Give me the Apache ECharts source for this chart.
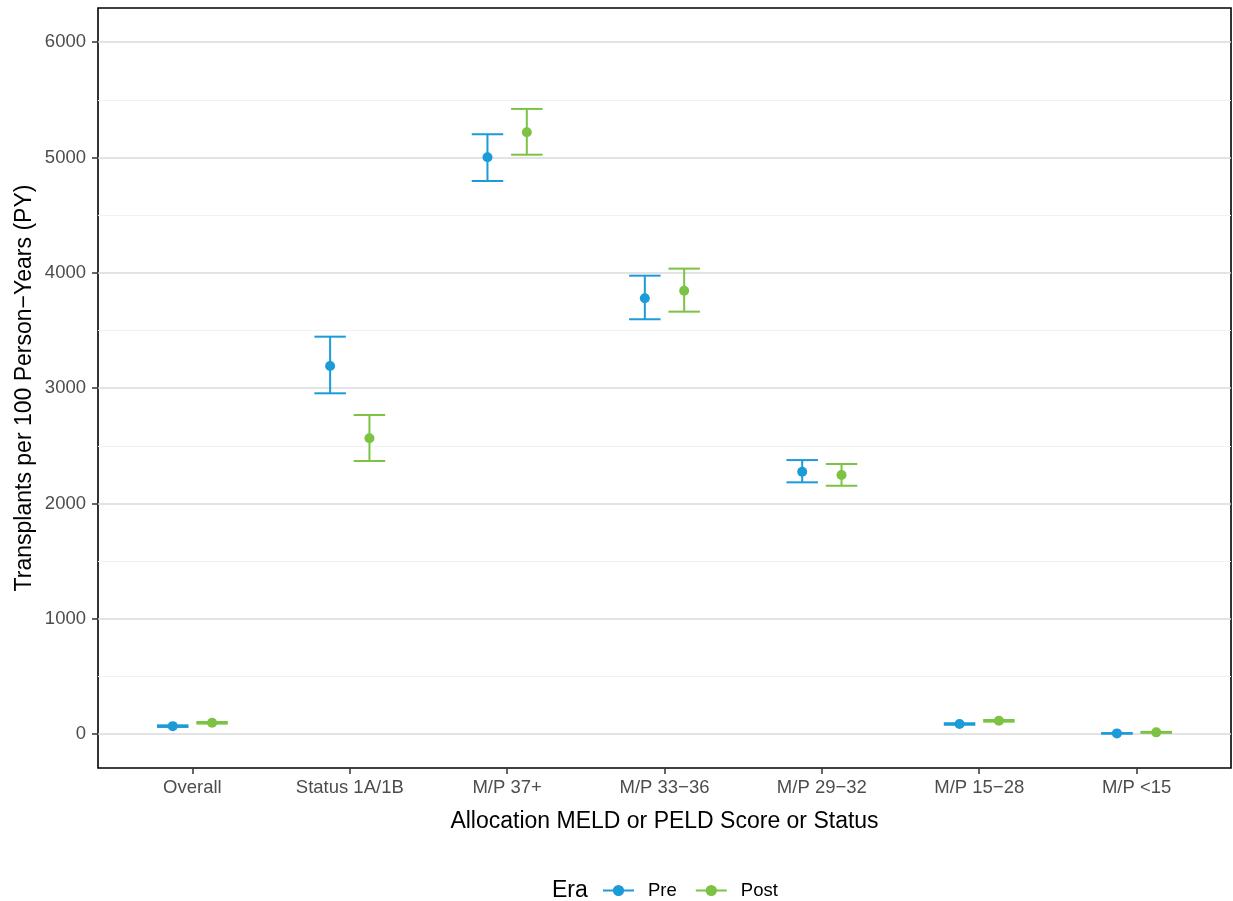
<!DOCTYPE html>
<html>
<head>
<meta charset="utf-8">
<script src="https://cdn.jsdelivr.net/npm/echarts@6/dist/echarts.min.js"></script>
<style>
  html, body { margin: 0; padding: 0; background: #fff; }
  #chart { width: 1233px; height: 901px; }
</style>
</head>
<body>
<div id="chart"></div>
<script>
const categories = ['Overall', 'Status 1A/1B', 'M/P 37+', 'M/P 33\u221236', 'M/P 29\u221232', 'M/P 15\u221228', 'M/P <15'];
const eras = ['Pre', 'Post'];

// rate per 100 PY with lower / upper CI
const preRate = [69, 3192, 5002, 3779, 2275, 87, 6];
const preLow = [62, 2955, 4796, 3597, 2183, 80, 3];
const preHigh = [76, 3446, 5201, 3975, 2376, 94, 9];
const postRate = [98, 2565, 5219, 3845, 2246, 115, 15];
const postLow = [91, 2368, 5024, 3663, 2153, 108, 11];
const postHigh = [105, 2767, 5421, 4036, 2342, 122, 19];

const yTicks = [0, 1000, 2000, 3000, 4000, 5000, 6000];
const yMinor = [500, 1500, 2500, 3500, 4500, 5500];

const colors = { Pre: '#1b9bd7', Post: '#7cc243' };
const dodge = 0.125;
const capHalf = 0.1;

const xTicks = categories.map((c, i) => i + 1);

function points(rate, shift) {
  return rate.map((v, i) => [i + 1 + shift, v]);
}
function bars(low, high, shift) {
  return low.map((v, i) => [i + 1 + shift, v, high[i]]);
}

function errorBar(color) {
  return function (params, api) {
    const x = api.value(0);
    const lo = api.coord([x, api.value(1)]);
    const hi = api.coord([x, api.value(2)]);
    const half = api.coord([x + capHalf, api.value(1)])[0] - lo[0];
    const style = { stroke: color, lineWidth: 2 };
    return {
      type: 'group',
      children: [
        { type: 'line', shape: { x1: lo[0], y1: lo[1], x2: hi[0], y2: hi[1] }, style: style },
        { type: 'line', shape: { x1: lo[0] - half, y1: lo[1], x2: lo[0] + half, y2: lo[1] }, style: style },
        { type: 'line', shape: { x1: hi[0] - half, y1: hi[1], x2: hi[0] + half, y2: hi[1] }, style: style }
      ]
    };
  };
}

const chart = echarts.init(document.getElementById('chart'), null, { renderer: 'canvas' });

const yRange = { min: -294, max: 6296 };
const font = 'Liberation Sans, Arial, sans-serif';

const option = {
  animation: false,
  backgroundColor: '#fff',
  textStyle: { fontFamily: font },
  grid: {
    left: 98, right: 2, top: 8, bottom: 133,
    show: true, borderColor: '#000', borderWidth: 1.6, backgroundColor: 'transparent'
  },
  xAxis: {
    type: 'value',
    min: 0.4, max: 7.6,
    name: 'Allocation MELD or PELD Score or Status',
    nameLocation: 'middle',
    nameGap: 42,
    nameTextStyle: { fontSize: 23, color: '#000' },
    axisLine: { show: false, onZero: false },
    axisTick: { show: true, length: 6, customValues: xTicks, lineStyle: { color: '#333', width: 1.5 } },
    axisLabel: {
      customValues: xTicks,
      fontSize: 18.5, color: '#4d4d4d', margin: 10,
      formatter: v => categories[Math.round(v) - 1]
    },
    splitLine: { show: false }
  },
  yAxis: [{
    type: 'value',
    min: yRange.min, max: yRange.max,
    name: 'Transplants per 100 Person\u2212Years (PY)',
    nameLocation: 'middle',
    nameGap: 62,
    nameMoveOverlap: false,
    nameTextStyle: { fontSize: 23, color: '#000' },
    axisLine: { show: false, onZero: false },
    axisTick: { show: true, length: 6, customValues: yTicks, lineStyle: { color: '#333', width: 1.5 } },
    axisLabel: { customValues: yTicks, fontSize: 18.5, color: '#4d4d4d', margin: 12, formatter: v => String(v) },
    splitLine: { show: true, lineStyle: { color: '#dadada', width: 1.6 } }
  }, {
    type: 'value',
    position: 'left',
    min: yRange.min, max: yRange.max,
    axisLine: { show: false, onZero: false },
    axisTick: { show: false, customValues: yMinor },
    axisLabel: { show: false, customValues: yMinor },
    splitLine: { show: true, lineStyle: { color: '#f1f1f1', width: 1 } }
  }],
  legend: {
    data: eras,
    left: 597,
    top: 876,
    itemWidth: 31,
    itemHeight: 14,
    itemGap: 18,
    textStyle: { fontSize: 18.5, color: '#000', padding: [0, 0, 0, 9] },
    lineStyle: { width: 2, opacity: 1 }
  },
  graphic: [{
    type: 'text',
    left: 552,
    top: 879,
    style: { text: 'Era', fontSize: 23, fill: '#000', fontFamily: font }
  }],
  series: [
    {
      name: 'Pre', type: 'line', data: points(preRate, -dodge),
      symbol: 'circle', symbolSize: 10, showSymbol: true,
      itemStyle: { color: colors.Pre },
      lineStyle: { opacity: 0, width: 2, color: colors.Pre }, z: 3
    },
    {
      name: 'Post', type: 'line', data: points(postRate, dodge),
      symbol: 'circle', symbolSize: 10, showSymbol: true,
      itemStyle: { color: colors.Post },
      lineStyle: { opacity: 0, width: 2, color: colors.Post }, z: 3
    },
    {
      name: 'Pre', type: 'custom', renderItem: errorBar(colors.Pre),
      itemStyle: { color: colors.Pre },
      encode: { x: 0, y: [1, 2] }, data: bars(preLow, preHigh, -dodge), z: 2
    },
    {
      name: 'Post', type: 'custom', renderItem: errorBar(colors.Post),
      itemStyle: { color: colors.Post },
      encode: { x: 0, y: [1, 2] }, data: bars(postLow, postHigh, dodge), z: 2
    }
  ]
};

chart.setOption(option);
</script>
</body>
</html>
